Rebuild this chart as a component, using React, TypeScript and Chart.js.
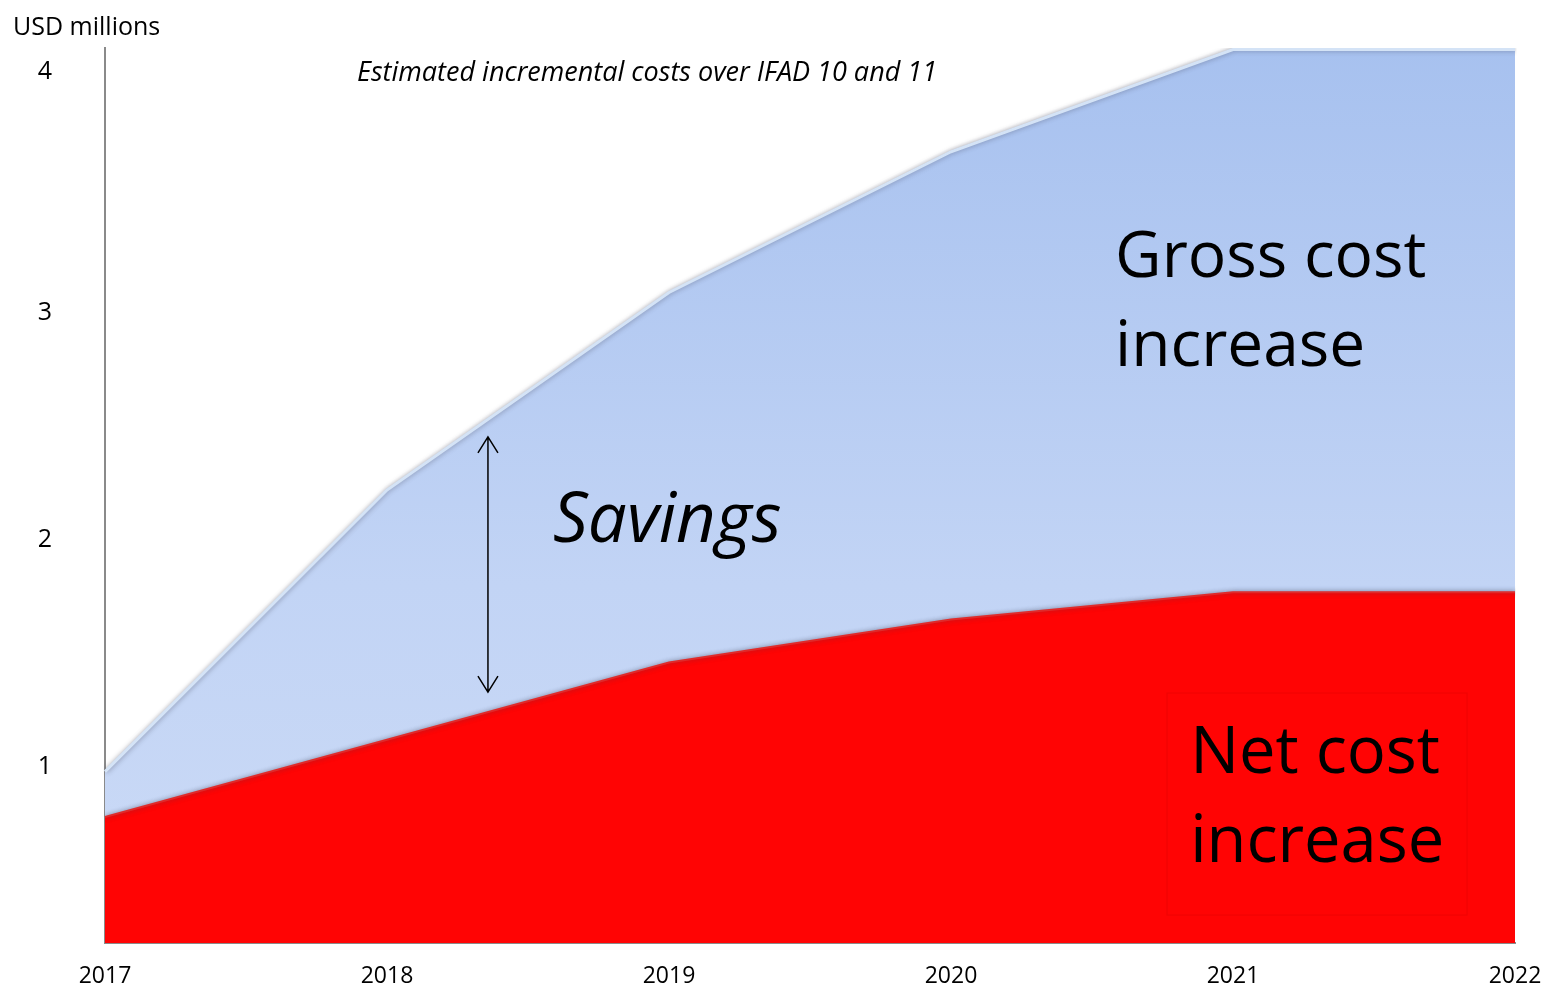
import React, { useEffect, useRef } from "react";
import { Chart, registerables } from "chart.js";

Chart.register(...registerables);

// ---- Data ----
const years = ["2017", "2018", "2019", "2020", "2021", "2022"];
const netCost = [0.78, 1.12, 1.46, 1.65, 1.77, 1.77];
const grossCost = [0.98, 2.22, 3.09, 3.71, 4.16, 4.16];
const yTickValues = [1, 2, 3, 4.06];
const yTickLabels = ["1", "2", "3", "4"];
const yMin = 0.225;
const yMax = 4.167;

const yAxisTitle = "USD millions";
const chartTitle = "Estimated incremental costs over IFAD 10 and 11";
const grossLabel = ["Gross cost", "increase"];
const netLabel = ["Net cost", "increase"];
const savingsLabel = "Savings";

const FONT = "'Open Sans', 'Noto Sans', sans-serif";

const shadowPlugin = {
  id: "areaShadow",
  beforeDatasetsDraw(chart: any) {
    const ctx = chart.ctx;
    ctx.save();
    ctx.shadowColor = "rgba(60,60,80,0.45)";
    ctx.shadowBlur = 5;
    ctx.shadowOffsetX = 1;
    ctx.shadowOffsetY = 0;
  },
  afterDatasetsDraw(chart: any) {
    chart.ctx.restore();
  },
};

const annotationPlugin = {
  id: "annotations",
  afterDatasetsDraw(chart: any) {
    const { ctx } = chart;
    const x = chart.scales.x;
    const y = chart.scales.y;
    ctx.save();
    ctx.shadowColor = "transparent";
    ctx.fillStyle = "#000";
    ctx.textAlign = "left";
    ctx.textBaseline = "alphabetic";

    // faint box around net label
    ctx.strokeStyle = "rgba(190,0,0,0.25)";
    ctx.lineWidth = 1;
    const bx1 = x.getPixelForValue(3.766);
    const bx2 = x.getPixelForValue(4.83);
    const by1 = y.getPixelForValue(1.326);
    const by2 = y.getPixelForValue(0.348);
    ctx.strokeRect(bx1, by1, bx2 - bx1, by2 - by1);

    // Gross cost label
    ctx.font = `64px ${FONT}`;
    const gx = x.getPixelForValue(3.582);
    ctx.fillText(grossLabel[0], gx, y.getPixelForValue(3.159));
    ctx.fillText(grossLabel[1], gx, y.getPixelForValue(2.767));

    // Net cost label
    ctx.font = `65px ${FONT}`;
    const nx = x.getPixelForValue(3.848);
    ctx.fillText(netLabel[0], nx, y.getPixelForValue(0.974));
    ctx.fillText(netLabel[1], nx, y.getPixelForValue(0.581));

    // Savings label
    ctx.font = `italic 69px ${FONT}`;
    ctx.fillText(savingsLabel, x.getPixelForValue(1.589), y.getPixelForValue(1.991));

    // Double-headed arrow
    const ax = x.getPixelForValue(1.358);
    const ay1 = y.getPixelForValue(2.454);
    const ay2 = y.getPixelForValue(1.33);
    ctx.strokeStyle = "#000";
    ctx.lineWidth = 1.5;
    ctx.beginPath();
    ctx.moveTo(ax, ay1);
    ctx.lineTo(ax, ay2);
    ctx.moveTo(ax - 10, ay1 + 16);
    ctx.lineTo(ax, ay1);
    ctx.lineTo(ax + 10, ay1 + 16);
    ctx.moveTo(ax - 10, ay2 - 16);
    ctx.lineTo(ax, ay2);
    ctx.lineTo(ax + 10, ay2 - 16);
    ctx.stroke();

    // Chart title (italic) and y-axis title
    ctx.font = `italic 27px ${FONT}`;
    ctx.fillText(chartTitle, 357, 81);
    ctx.font = `25px ${FONT}`;
    ctx.fillText(yAxisTitle, 13, 35);
    ctx.restore();
  },
};

export default function App() {
  const canvasRef = useRef<HTMLCanvasElement | null>(null);

  useEffect(() => {
    if (!canvasRef.current) return;
    const chart = new Chart(canvasRef.current, {
      type: "line",
      data: {
        labels: years,
        datasets: [
          {
            label: "Net cost increase",
            data: netCost,
            fill: "start",
            backgroundColor: "#ff0404",
            borderColor: "#e02a2a",
            borderWidth: 2,
            pointRadius: 0,
            tension: 0,
          },
          {
            label: "Gross cost increase",
            data: grossCost,
            fill: "-1",
            backgroundColor: (ctx: any) => {
              const area = ctx.chart.chartArea;
              if (!area) return "#b8cdf3";
              const g = ctx.chart.ctx.createLinearGradient(0, area.top, 0, area.bottom);
              g.addColorStop(0, "#a7c1ef");
              g.addColorStop(0.6, "#c2d4f5");
              g.addColorStop(1, "#cbdaf6");
              return g;
            },
            borderColor: "#d4e3f6",
            borderWidth: 3,
            pointRadius: 0,
            tension: 0,
          },
        ],
      },
      options: {
        animation: false,
        responsive: true,
        maintainAspectRatio: false,
        layout: { padding: { top: 48, right: 27, left: 0, bottom: 0 } },
        plugins: {
          legend: { display: false },
          tooltip: { enabled: false },
          title: { display: false },
        },
        scales: {
          x: {
            type: "category",
            offset: false,
            grid: {
              display: true,
              drawOnChartArea: false,
              drawTicks: true,
              tickLength: 20,
              color: "rgba(0,0,0,0)",
            },
            border: { display: true, color: "#8a8a8a", width: 2 },
            ticks: {
              color: "#000",
              font: { family: FONT, size: 23 },
              padding: 0,
              maxRotation: 0,
              autoSkip: false,
            },
            afterFit: (scale: any) => {
              scale.height = 46;
            },
          },
          y: {
            type: "linear",
            min: yMin,
            max: yMax,
            grid: {
              display: true,
              drawOnChartArea: false,
              drawTicks: true,
              tickLength: 53,
              color: "rgba(0,0,0,0)",
            },
            border: { display: true, color: "#8a8a8a", width: 2 },
            afterBuildTicks: (scale: any) => {
              scale.ticks = yTickValues.map((v) => ({ value: v }));
            },
            ticks: {
              color: "#000",
              font: { family: FONT, size: 25 },
              padding: 0,
              autoSkip: false,
              callback: (_v: any, i: number) => yTickLabels[i],
            },
            afterFit: (scale: any) => {
              scale.width = 105;
            },
          },
        },
      },
      plugins: [shadowPlugin, annotationPlugin],
    });
    return () => chart.destroy();
  }, []);

  return (
    <div
      style={{
        position: "fixed",
        left: 0,
        top: 0,
        width: 1542,
        height: 989,
        background: "#fff",
      }}
    >
      <canvas ref={canvasRef} />
    </div>
  );
}
